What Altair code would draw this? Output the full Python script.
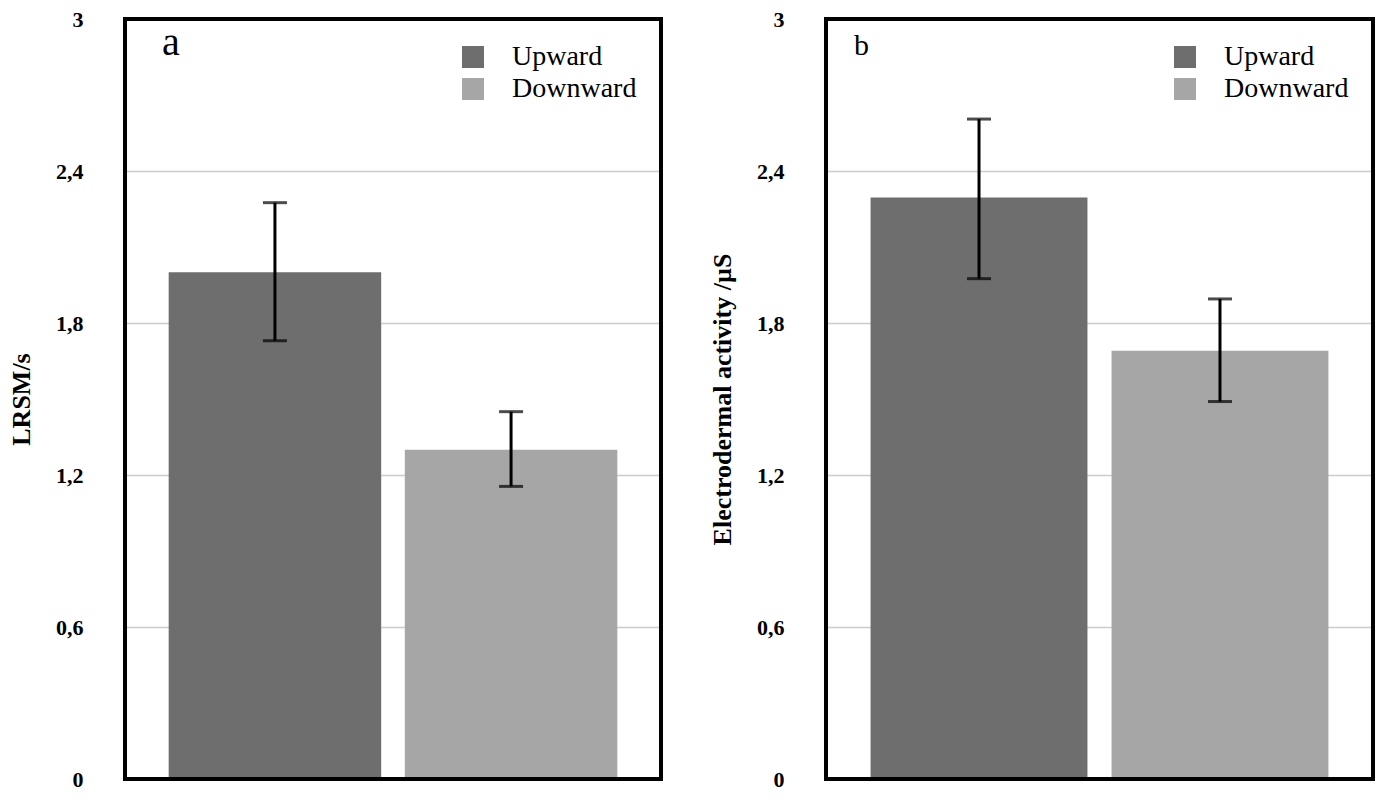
import altair as alt
import pandas as pd

# bar heights and error-bar ends
directions = ["Upward", "Downward"]
colors = ["#6e6e6e", "#a6a6a6"]

a_mean = [2.00, 1.30]
a_lo = [1.73, 1.155]
a_hi = [2.275, 1.45]

b_mean = [2.295, 1.69]
b_lo = [1.975, 1.49]
b_hi = [2.605, 1.895]

y_ticks = [0, 0.6, 1.2, 1.8, 2.4, 3]

SERIF = "Liberation Serif"
PLOT_H = 760


def panel(means, lo, hi, ytitle, tag, tag_size, tag_x, width):
    """One framed bar panel with error bars, in-plot legend and letter tag."""
    df = pd.DataFrame({"dir": directions, "mean": means, "lo": lo, "hi": hi})
    base = alt.Chart(df)

    x = alt.X(
        "dir:N",
        sort=directions,
        axis=None,
        scale=alt.Scale(paddingInner=0.1, paddingOuter=0.185),
    )
    y_scale = alt.Scale(domain=[0, 3], nice=False)

    bars = base.mark_bar().encode(
        x=x,
        y=alt.Y("mean:Q", scale=y_scale).axis(
            title=ytitle,
            values=y_ticks,
            labelExpr="replace(format(datum.value, '.1~f'), '.', ',')",
            labelFont=SERIF,
            labelFontSize=22,
            labelFontWeight="bold",
            labelColor="black",
            labelPadding=42,
            titleFont=SERIF,
            titleFontSize=26,
            titleFontWeight="bold",
            titleColor="black",
            titlePadding=21,
            domain=False,
            ticks=False,
            grid=True,
            gridColor="#cccccc",
            gridWidth=1.5,
        ),
        color=alt.Color(
            "dir:N",
            sort=directions,
            scale=alt.Scale(domain=directions, range=colors),
            legend=alt.Legend(
                title=None,
                orient="top-right",
                offset=24,
                padding=0,
                symbolType="square",
                symbolSize=484,
                symbolStrokeWidth=0,
                labelFont=SERIF,
                labelFontSize=28,
                labelColor="black",
                labelOffset=25,
                rowPadding=4,
                labelLimit=300,
            ),
        ),
    )

    err = base.mark_rule(color="black", strokeWidth=3).encode(
        x=x, y="lo:Q", y2="hi:Q"
    )
    cap_lo = base.mark_tick(color="black", size=24, thickness=3).encode(x=x, y="lo:Q")
    cap_hi = base.mark_tick(color="black", size=24, thickness=3).encode(x=x, y="hi:Q")

    # heavy black frame round the plot area
    frame = (
        alt.Chart(pd.DataFrame({"t": [tag]}))
        .mark_rect(filled=False, stroke="black", strokeWidth=4)
        .encode(
            x=alt.value(0), x2=alt.value(width), y=alt.value(0), y2=alt.value(PLOT_H)
        )
    )

    label = (
        alt.Chart(pd.DataFrame({"t": [tag]}))
        .mark_text(
            font=SERIF,
            fontSize=tag_size,
            color="black",
            align="left",
            baseline="alphabetic",
        )
        .encode(text="t:N", x=alt.value(tag_x), y=alt.value(36))
    )

    return alt.layer(bars, err, cap_lo, cap_hi, frame, label).properties(
        width=width,
        height=PLOT_H,
    )


left = panel(a_mean, a_lo, a_hi, "LRSM/s", "a", 40, 37, 536)
right = panel(b_mean, b_lo, b_hi, "Electrodermal activity /µS", "b", 30, 28, 547)

chart = (
    alt.hconcat(left, right, spacing=46)
    .resolve_legend(color="independent")
    .properties(padding={"left": 0, "top": 0, "right": 0, "bottom": 0})
    .configure(font=SERIF)
    .configure_view(stroke=None)
)

chart.save("out.html", embed_options={"renderer": "svg", "actions": False})
